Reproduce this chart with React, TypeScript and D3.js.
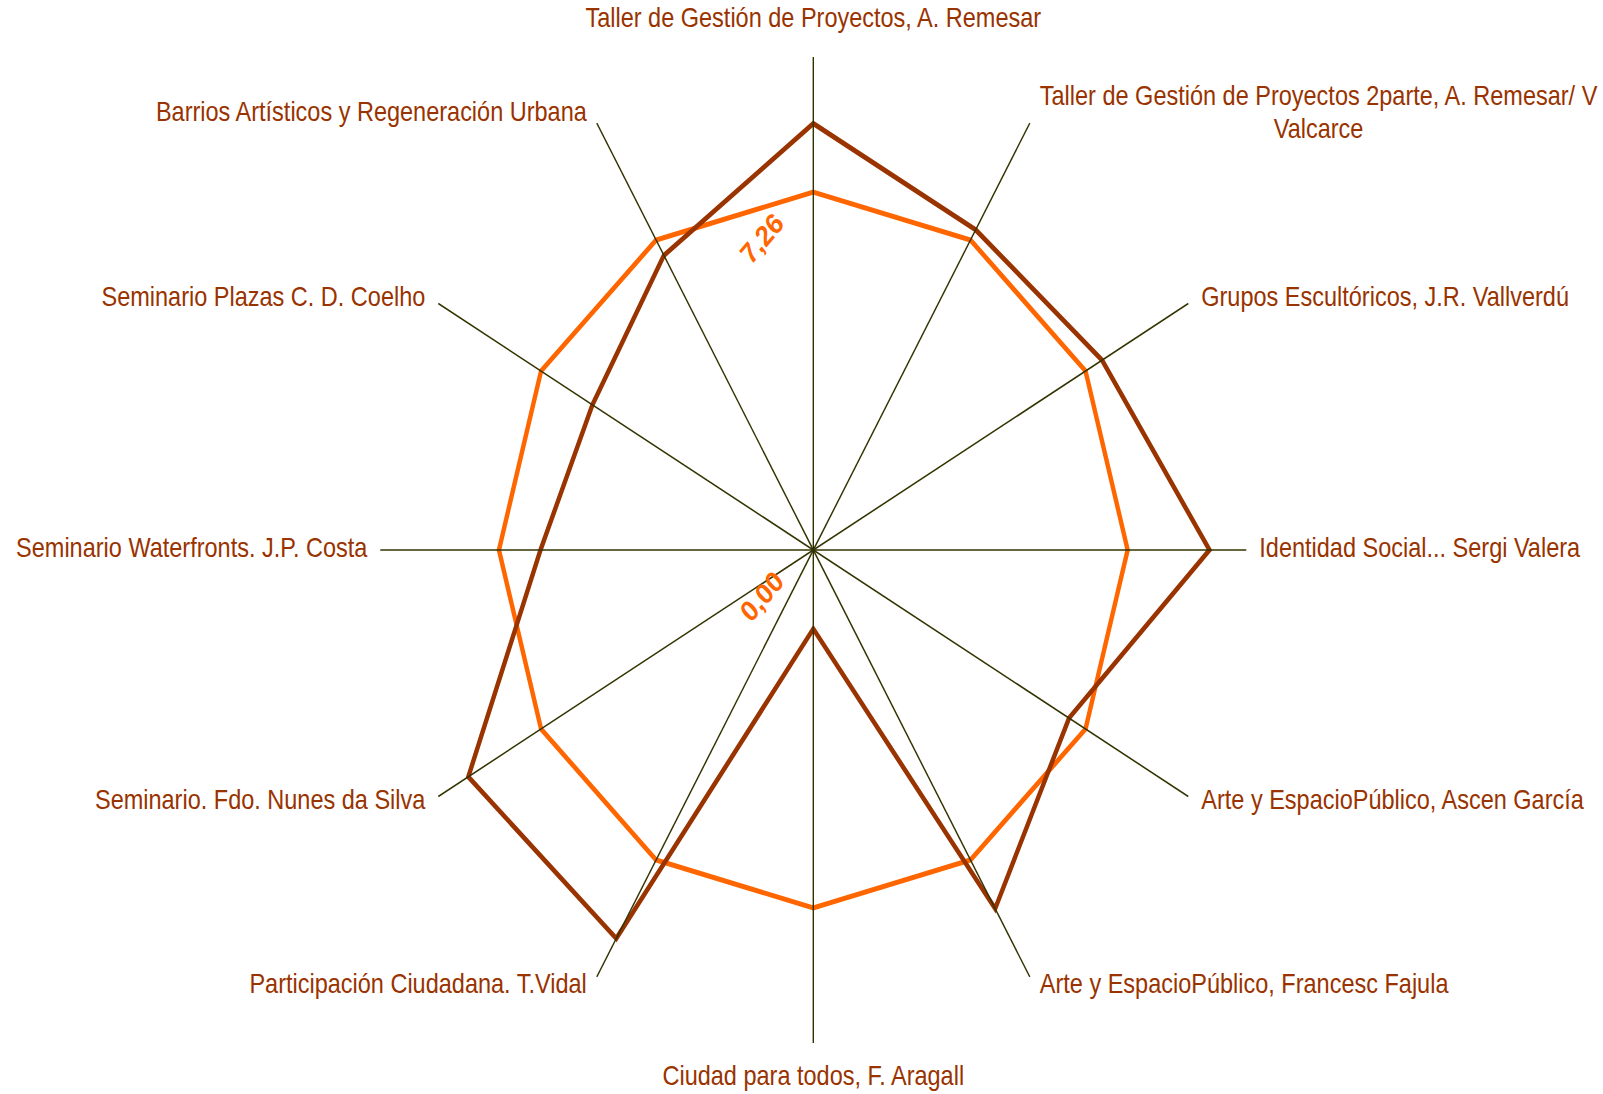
import React, { useRef, useEffect } from 'react';
import * as d3 from 'd3';

// axis names, clockwise from the top
const categories = [
  'Taller de Gestión de Proyectos, A. Remesar',
  'Taller de Gestión de Proyectos 2parte, A. Remesar/ V\nValcarce',
  'Grupos Escultóricos, J.R. Vallverdú',
  'Identidad Social... Sergi Valera',
  'Arte y EspacioPúblico, Ascen García',
  'Arte y EspacioPúblico, Francesc Fajula',
  'Ciudad para todos, F. Aragall',
  'Participación Ciudadana. T.Vidal',
  'Seminario. Fdo. Nunes da Silva',
  'Seminario Waterfronts. J.P. Costa',
  'Seminario Plazas C. D. Coelho',
  'Barrios Artísticos y Regeneración Urbana',
];

const scores = [8.65, 7.5, 7.7, 9.15, 6.82, 8.4, 1.6, 9.1, 9.2, 6.3, 5.89, 6.9];
const average = [7.26, 7.26, 7.26, 7.26, 7.26, 7.26, 7.26, 7.26, 7.26, 7.26, 7.26, 7.26];
const valueLabels = [0, 7.26];

const W = 1603, H = 1094;
const cx = 813.3, cy = 550;
const R = 433;
const stretch = 1.1386; // chart is taller than wide

const App = () => {
  const ref = useRef<SVGSVGElement>(null);

  useEffect(() => {
    const svg = d3.select(ref.current);
    svg.selectAll('*').remove();
    const g = svg.append('g').attr('transform', `translate(${cx},${cy}) scale(1,${stretch})`);

    const angle = d3.scaleLinear().domain([0, categories.length]).range([0, 2 * Math.PI]);
    const r = d3.scaleLinear().domain([0, 10]).range([0, R]);
    const fmt = (v: number) => d3.format('.2f')(v).replace('.', ',');

    const line = d3.lineRadial<number>()
      .angle((d, i) => angle(i))
      .radius(d => r(d))
      .curve(d3.curveLinearClosed);

    g.append('path').datum(average).attr('d', line)
      .attr('fill', 'none').attr('stroke', '#ff6600').attr('stroke-width', 4.4)
      .attr('stroke-linejoin', 'miter');
    g.append('path').datum(scores).attr('d', line)
      .attr('fill', 'none').attr('stroke', '#993300').attr('stroke-width', 4.4)
      .attr('stroke-linejoin', 'miter');

    // spokes
    g.selectAll('line.axis').data(categories).enter().append('line')
      .attr('class', 'axis')
      .attr('x1', 0).attr('y1', 0)
      .attr('x2', (d, i) => Math.sin(angle(i)) * r(10))
      .attr('y2', (d, i) => -Math.cos(angle(i)) * r(10))
      .attr('stroke', '#333300').attr('stroke-width', 1.4);

    // category labels
    categories.forEach((name, i) => {
      const a = angle(i);
      const s = Math.sin(a), c = Math.cos(a);
      const ex = s * r(10), ey = -c * r(10);
      const lines = name.split('\n');
      const t = g.append('text')
        .attr('fill', '#993300')
        .style('font-family', '"Liberation Sans", Arial, sans-serif')
        .style('font-size', '23.5px');
      let x = ex, y = ey, anchor = 'middle';
      if (Math.abs(s) < 0.01) {
        y = c > 0 ? ey - 26 : ey + 37;
      } else {
        anchor = s > 0 ? 'start' : 'end';
        const gap = Math.abs(s) < 0.6 ? 10 : 13;
        x = ex + (s > 0 ? gap : -gap);
        y = ey - c * 9 - 2 + 8.4 - (lines.length - 1) * 14.5;
      }
      lines.forEach((l, k) => {
        t.append('tspan').attr('x', x).attr('y', y + k * 29).text(l);
      });
      if (lines.length > 1) {
        const first = t.select('tspan').node() as SVGTSpanElement;
        const len = first.getComputedTextLength();
        t.selectAll('tspan').attr('x', x + (s > 0 ? len / 2 : -len / 2));
        anchor = 'middle';
      }
      t.attr('text-anchor', anchor);
    });

    // value labels
    g.selectAll('text.val').data(valueLabels).enter().append('text')
      .attr('class', 'val')
      .attr('transform', d => `translate(-51.5,${-r(d) + 40.6}) rotate(-46)`)
      .attr('text-anchor', 'middle').attr('dominant-baseline', 'central')
      .attr('fill', '#ff6600')
      .style('font-family', '"Liberation Sans", Arial, sans-serif')
      .style('font-size', '25.5px').style('font-weight', 'bold')
      .text(d => fmt(d));
  }, []);

  return (
    <svg ref={ref} width={W} height={H}
      style={{ position: 'absolute', left: 0, top: 0, background: '#fff' }} />
  );
};

export default App;
